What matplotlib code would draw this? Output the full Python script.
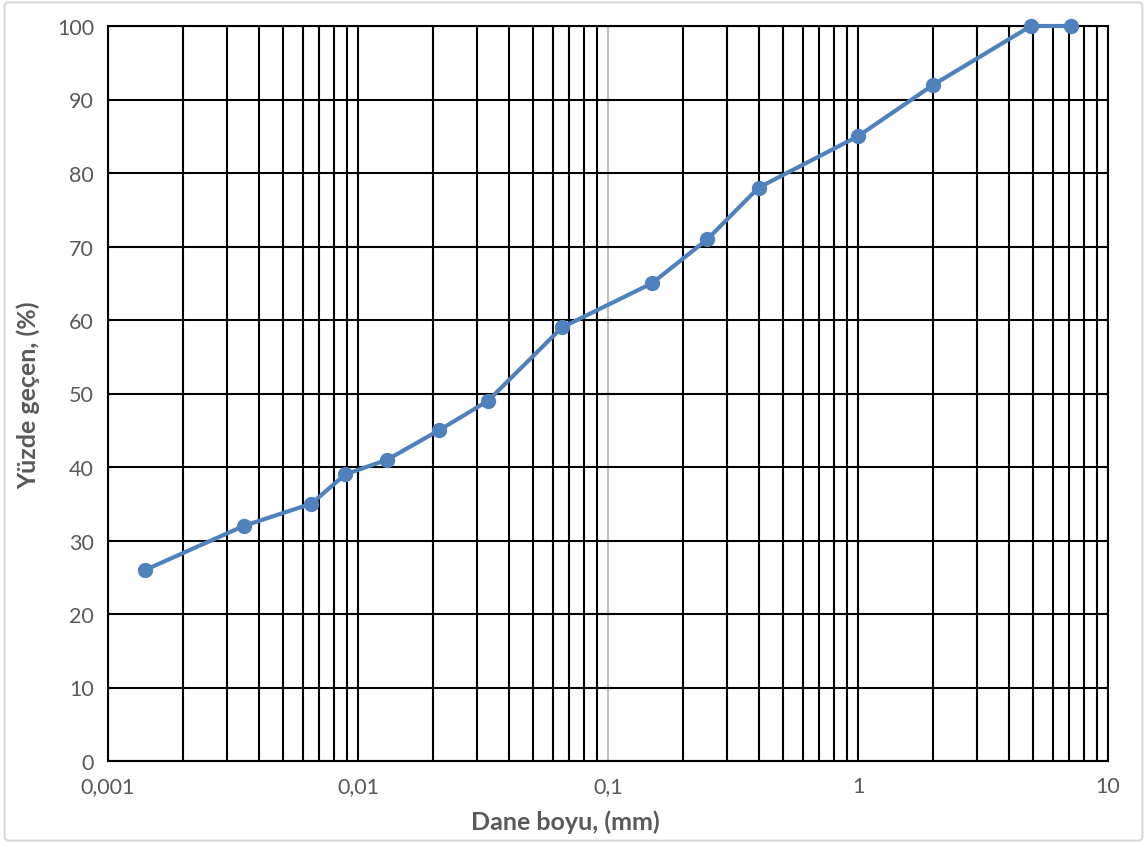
import numpy as np
import matplotlib.pyplot as plt
from matplotlib.patches import FancyBboxPatch
from matplotlib.ticker import FixedLocator, FuncFormatter, NullFormatter

# dane boyu (mm) y yuzde gecen (%)
dane_boyu = [0.00141, 0.0035, 0.0065, 0.0089, 0.0131, 0.0211, 0.0331, 0.0655,
             0.15, 0.25, 0.40, 1.0, 2.0, 4.92, 7.1]
yuzde_gecen = [26, 32, 35, 39, 41, 45, 49, 59, 65, 71, 78, 85, 92, 100, 100]

x_ticks = [0.001, 0.01, 0.1, 1, 10]
x_tick_labels = ["0,001", "0,01", "0,1", "1", "10"]
y_ticks = list(range(0, 101, 10))

plt.rcParams['font.family'] = ['Lato', 'DejaVu Sans']
gris = "#595959"
azul = "#4F81BD"

fig = plt.figure(figsize=(11.47, 8.45), dpi=100)
ax = fig.add_axes([108/1147, 83/845, 1000/1147, 735/845])

# marco del grafico
marco = FancyBboxPatch((0.004, 0.004), 0.992, 0.992, boxstyle="round,pad=0,rounding_size=0.004",
                       transform=fig.transFigure, facecolor="none", edgecolor="#D9D9D9",
                       linewidth=1.5, zorder=-1)
fig.patches.append(marco)

ax.set_xscale("log")
ax.set_xlim(0.001, 10)
ax.set_ylim(0, 100)

# rejilla: menores en negro, mayores en negro salvo 0,1 en gris
minors = []
for d in [0.001, 0.01, 0.1, 1]:
    for k in range(2, 10):
        minors.append(d * k)
for xv in minors:
    ax.axvline(xv, color="black", lw=1.5, zorder=1)
for xv in x_ticks:
    ax.axvline(xv, color="#BFBFBF" if xv == 0.1 else "black", lw=1.5, zorder=1)
for yv in y_ticks:
    ax.axhline(yv, color="black", lw=1.5, zorder=1)

for s in ax.spines.values():
    s.set_color("black")
    s.set_linewidth(1.5)
    s.set_zorder(2)

ax.xaxis.set_major_locator(FixedLocator(x_ticks))
ax.xaxis.set_major_formatter(FuncFormatter(lambda v, p: x_tick_labels[x_ticks.index(v)] if v in x_ticks else ""))
ax.xaxis.set_minor_formatter(NullFormatter())
ax.set_yticks(y_ticks)
ax.tick_params(axis="both", which="both", length=0, labelsize=15.5, labelcolor=gris)
ax.tick_params(axis="x", pad=11)
ax.tick_params(axis="y", pad=10)

ax.plot(dane_boyu, yuzde_gecen, color=azul, lw=3, marker="o", markersize=10,
        markerfacecolor=azul, markeredgecolor=azul, zorder=5, clip_on=False)

fig.text(565/1147, 1 - 822/845, "Dane boyu, (mm)", ha="center", va="center",
         fontsize=18, fontweight="bold", color=gris)
fig.text(28/1147, 1 - 395/845, "Yüzde geçen, (%)", ha="center", va="center",
         rotation=90, fontsize=18, fontweight="bold", color=gris)

fig.savefig("out.png", dpi=100)
